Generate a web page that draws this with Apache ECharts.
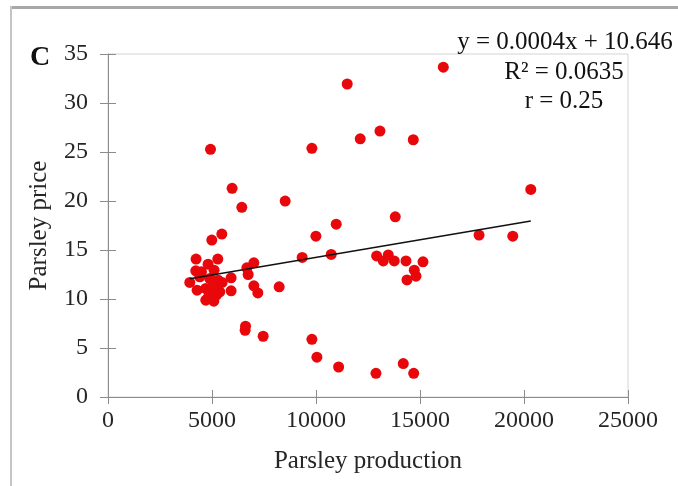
<!DOCTYPE html>
<html>
<head>
<meta charset="utf-8">
<style>
  html, body { margin: 0; padding: 0; background: #fff; }
  #chart { width: 678px; height: 486px; }
</style>
<script src="https://cdn.jsdelivr.net/npm/echarts@6/dist/echarts.min.js"></script>
</head>
<body>
<div id="chart"></div>
<script>
// Parsley production (x) vs parsley price (y)
const production = [
  16121, 11501, 13075, 12127, 14677, 9803, 4928, 5967, 20327, 8518,
  6434, 13811, 10972, 5472, 17839, 9995, 19461, 4990, 10731, 13475,
  12916, 9336, 4235, 5279, 13234, 13763, 14326, 15144, 7012, 4812,
  6675, 14726, 5101, 4220, 4495, 6738, 14808, 5919, 14374, 3932,
  5486, 7012, 8229, 5215, 4812, 4283, 5919, 5375, 7204, 4702,
  5087, 6612, 6593, 7459, 9803, 10043, 14196, 11087, 12883, 14697,
  4413, 4894, 5294, 4702, 4812, 5215, 5101
];
const price = [
  33.65, 31.94, 27.14, 26.35, 26.25, 25.37, 25.27, 21.29, 21.18, 19.99,
  19.35, 18.39, 17.64, 16.62, 16.52, 16.41, 16.41, 16.01, 14.55, 14.50,
  14.40, 14.24, 14.07, 14.07, 13.89, 13.89, 13.89, 13.79, 13.69, 13.55,
  13.18, 12.94, 12.94, 12.87, 12.77, 12.50, 12.33, 12.16, 11.95, 11.69,
  11.69, 11.34, 11.24, 11.24, 10.97, 10.90, 10.83, 10.73, 10.62, 9.88,
  9.78, 7.22, 6.81, 6.20, 5.89, 4.06, 3.41, 3.06, 2.42, 2.42,
  12.26, 12.09, 11.92, 11.07, 10.15, 10.39, 11.60
];

// Linear fit shown on the chart
const fitSlope = 0.00036;
const fitIntercept = 10.646;
const fitLabels = ['y = 0.0004x + 10.646', 'R\u00B2 = 0.0635', 'r = 0.25'];
const panelLetter = 'C';

const xTicks = { min: 0, max: 25000, interval: 5000 };
const yTicks = { min: 0, max: 35, interval: 5 };

const points = production.map((x, i) => [x, price[i]]);
const xMinData = Math.min(...production);
const xMaxData = Math.max(...production);
const fitLine = [
  [xMinData, fitIntercept + fitSlope * xMinData],
  [xMaxData, fitIntercept + fitSlope * xMaxData]
];

const serif = '"Liberation Serif", "Times New Roman", serif';
const textColor = '#262626';
const axisColor = '#8c8c8c';

const gridBox = { left: 108, right: 50, top: 54, bottom: 89 };

const chart = echarts.init(document.getElementById('chart'));
chart.setOption({
  backgroundColor: '#fff',
  animation: false,
  textStyle: { fontFamily: serif },
  grid: [
    Object.assign({ show: true, borderColor: '#d4d4d4', borderWidth: 1 }, gridBox),
    Object.assign({}, gridBox)
  ],
  xAxis: [
    {
      type: 'value', gridIndex: 0,
      min: xTicks.min, max: xTicks.max, interval: xTicks.interval,
      name: 'Parsley production', nameLocation: 'middle', nameGap: 52,
      nameTextStyle: { fontFamily: serif, fontSize: 25, color: textColor },
      axisLine: { show: true, lineStyle: { color: axisColor, width: 1 } },
      axisTick: { show: true, inside: false, length: 7, lineStyle: { color: axisColor } },
      axisLabel: {
        fontFamily: serif, fontSize: 24, color: textColor, margin: 12,
        formatter: (v) => String(v)
      },
      splitLine: { show: false }
    },
    {
      type: 'value', gridIndex: 1, position: 'bottom',
      min: xTicks.min, max: xTicks.max, interval: xTicks.interval,
      axisLine: { show: false },
      axisTick: { show: true, inside: true, length: 7, lineStyle: { color: axisColor } },
      axisLabel: { show: false },
      splitLine: { show: false }
    }
  ],
  yAxis: [
    {
      type: 'value', gridIndex: 0,
      min: yTicks.min, max: yTicks.max, interval: yTicks.interval,
      name: 'Parsley price', nameLocation: 'middle', nameGap: 56,
      nameTextStyle: { fontFamily: serif, fontSize: 25, color: textColor },
      axisLine: { show: true, lineStyle: { color: axisColor, width: 1 } },
      axisTick: { show: true, inside: false, length: 8, lineStyle: { color: axisColor } },
      axisLabel: {
        fontFamily: serif, fontSize: 24, color: textColor, margin: 20,
        formatter: (v) => String(v)
      },
      splitLine: { show: false }
    },
    {
      type: 'value', gridIndex: 1, position: 'left',
      min: yTicks.min, max: yTicks.max, interval: yTicks.interval,
      axisLine: { show: false },
      axisTick: { show: true, inside: true, length: 8, lineStyle: { color: axisColor } },
      axisLabel: { show: false },
      splitLine: { show: false }
    }
  ],
  series: [
    {
      type: 'scatter', xAxisIndex: 0, yAxisIndex: 0,
      data: points,
      symbolSize: 11,
      itemStyle: { color: '#e8080b', opacity: 1 },
      z: 3
    },
    {
      type: 'line', xAxisIndex: 0, yAxisIndex: 0,
      data: fitLine,
      showSymbol: false, symbol: 'none',
      lineStyle: { color: '#111', width: 1.5 },
      z: 4
    }
  ],
  graphic: [
    // outer frame edges
    { type: 'rect', shape: { x: 10, y: 6, width: 668, height: 3 }, style: { fill: '#a8a8a8' } },
    { type: 'rect', shape: { x: 10, y: 6, width: 2, height: 480 }, style: { fill: '#c4c4c4' } },
    {
      type: 'text', left: 30, top: 44,
      style: { text: panelLetter, font: 'bold 28px ' + serif, fill: '#111' }
    },
    {
      type: 'text', x: 565, y: 42,
      style: { text: fitLabels[0], font: '25px ' + serif, fill: '#111', textAlign: 'center', textVerticalAlign: 'middle' }
    },
    {
      type: 'text', x: 564, y: 72,
      style: { text: fitLabels[1], font: '25px ' + serif, fill: '#111', textAlign: 'center', textVerticalAlign: 'middle' }
    },
    {
      type: 'text', x: 564, y: 101,
      style: { text: fitLabels[2], font: '25px ' + serif, fill: '#111', textAlign: 'center', textVerticalAlign: 'middle' }
    }
  ]
});
</script>
</body>
</html>
